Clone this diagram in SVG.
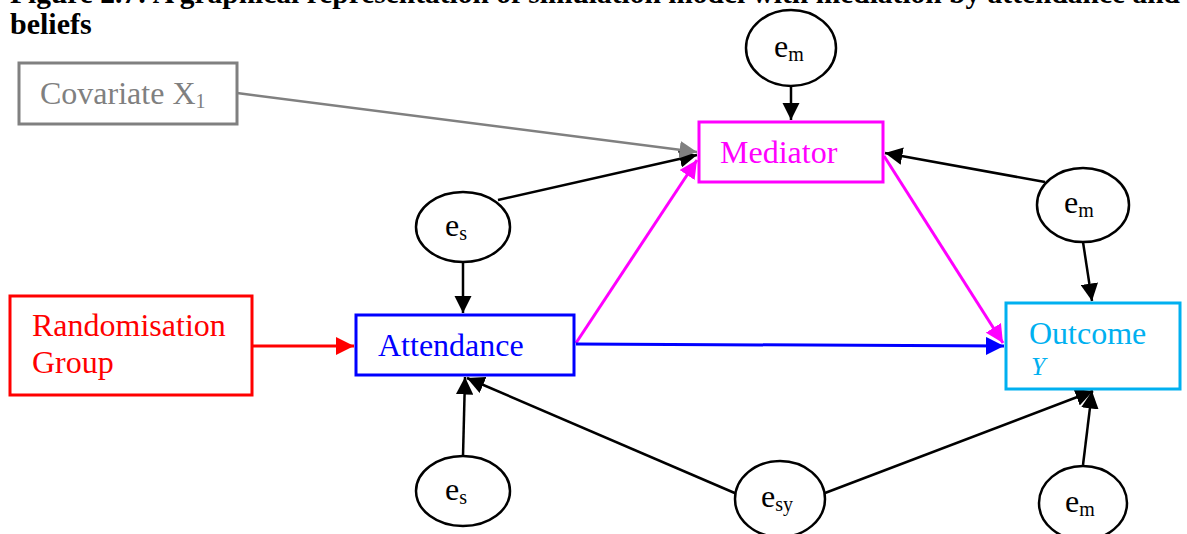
<svg xmlns="http://www.w3.org/2000/svg" width="1187" height="534" viewBox="0 0 1187 534">
  <style>
    text { font-family: "Liberation Serif", "Times New Roman", serif; }
    .title { font-size: 30px; font-weight: bold; fill: #000; }
    .lbl { font-size: 32px; }
    .err { fill: #fff; stroke: #000; stroke-width: 2.5; }
    .etext { font-size: 32px; fill: #000; }
    .sub { font-size: 20px; }
    .box { fill: #fff; stroke-width: 3; }
    .edge { fill: none; stroke-width: 2.5; }
    .hl { stroke-width: 3; }
  </style>
  <defs>
    <marker id="ahBlack" viewBox="0 0 10 10" refX="10" refY="5" markerWidth="7" markerHeight="7" orient="auto" markerUnits="strokeWidth">
      <path d="M0,0 L10,5 L0,10 Z" fill="#000"/>
    </marker>
    <marker id="ahGray" viewBox="0 0 10 10" refX="10" refY="5" markerWidth="7" markerHeight="7" orient="auto" markerUnits="strokeWidth">
      <path d="M0,0 L10,5 L0,10 Z" fill="#808080"/>
    </marker>
    <marker id="ahRed" viewBox="0 0 10 10" refX="10" refY="5" markerWidth="6" markerHeight="6" orient="auto" markerUnits="strokeWidth">
      <path d="M0,0 L10,5 L0,10 Z" fill="#ff0000"/>
    </marker>
    <marker id="ahBlue" viewBox="0 0 10 10" refX="10" refY="5" markerWidth="6" markerHeight="6" orient="auto" markerUnits="strokeWidth">
      <path d="M0,0 L10,5 L0,10 Z" fill="#0000ff"/>
    </marker>
    <marker id="ahMagenta" viewBox="0 0 10 10" refX="10" refY="5" markerWidth="6" markerHeight="6" orient="auto" markerUnits="strokeWidth">
      <path d="M0,0 L10,5 L0,10 Z" fill="#ff00ff"/>
    </marker>
  </defs>

  <rect x="0" y="0" width="1187" height="534" fill="#fff"/>

  <!-- caption (first line runs off the top edge) -->
  <text class="title" x="10" y="3" textLength="1170" lengthAdjust="spacingAndGlyphs">Figure 2.7: A graphical representation of simulation model with mediation by attendance and</text>
  <text class="title" x="10" y="34">beliefs</text>

  <!-- connectors -->
  <g id="connectors">
    <line class="edge" x1="498" y1="200" x2="697" y2="155" stroke="#000" marker-end="url(#ahBlack)"/>
    <line class="edge" x1="237" y1="93" x2="697" y2="152" stroke="#808080" marker-end="url(#ahGray)"/>
    <line class="edge" x1="791" y1="85" x2="791" y2="120" stroke="#000" marker-end="url(#ahBlack)"/>
    <line class="edge" x1="1045" y1="182" x2="885" y2="153" stroke="#000" marker-end="url(#ahBlack)"/>
    <line class="edge" x1="463" y1="262" x2="463" y2="313" stroke="#000" marker-end="url(#ahBlack)"/>
    <line class="edge hl" x1="252" y1="346" x2="354" y2="346" stroke="#ff0000" marker-end="url(#ahRed)"/>
    <line class="edge hl" x1="576" y1="343" x2="697" y2="160" stroke="#ff00ff" marker-end="url(#ahMagenta)"/>
    <line class="edge hl" x1="576" y1="344" x2="1004" y2="346" stroke="#0000ff" marker-end="url(#ahBlue)"/>
    <line class="edge hl" x1="884" y1="156" x2="1003" y2="343" stroke="#ff00ff" marker-end="url(#ahMagenta)"/>
    <line class="edge" x1="1083" y1="242" x2="1092" y2="301" stroke="#000" marker-end="url(#ahBlack)"/>
    <line class="edge" x1="463" y1="456" x2="465" y2="377" stroke="#000" marker-end="url(#ahBlack)"/>
    <line class="edge" x1="737" y1="494" x2="467" y2="378" stroke="#000" marker-end="url(#ahBlack)"/>
    <line class="edge" x1="825" y1="493" x2="1093" y2="391" stroke="#000" marker-end="url(#ahBlack)"/>
    <line class="edge" x1="1083" y1="465" x2="1092" y2="391" stroke="#000" marker-end="url(#ahBlack)"/>
  </g>

  <!-- nodes -->
  <g id="covariate">
    <rect class="box" x="19" y="63" width="218" height="61" stroke="#808080"/>
    <text class="lbl" x="40" y="104" fill="#808080">Covariate X<tspan class="sub" dy="4">1</tspan></text>
  </g>

  <g id="em-top">
    <ellipse class="err" cx="791" cy="48" rx="45" ry="38"/>
    <text class="etext" x="774" y="57">e<tspan class="sub" dy="4">m</tspan></text>
  </g>

  <g id="mediator">
    <rect class="box" x="699" y="122" width="184" height="60" stroke="#ff00ff"/>
    <text class="lbl" x="720" y="163" fill="#ff00ff">Mediator</text>
  </g>

  <g id="em-right">
    <ellipse class="err" cx="1083" cy="205" rx="46" ry="37"/>
    <text class="etext" x="1064" y="213">e<tspan class="sub" dy="4">m</tspan></text>
  </g>

  <g id="es-top">
    <ellipse class="err" cx="463" cy="227" rx="47" ry="35"/>
    <text class="etext" x="445" y="236">e<tspan class="sub" dy="4">s</tspan></text>
  </g>

  <g id="randomisation">
    <rect class="box" x="10" y="296" width="242" height="99" stroke="#ff0000"/>
    <text class="lbl" x="32" y="336" fill="#ff0000">Randomisation</text>
    <text class="lbl" x="32" y="373" fill="#ff0000">Group</text>
  </g>

  <g id="attendance">
    <rect class="box" x="356" y="315" width="218" height="60" stroke="#0000ff"/>
    <text class="lbl" x="378" y="356" fill="#0000ff">Attendance</text>
  </g>

  <g id="outcome">
    <rect class="box" x="1006" y="303" width="174" height="86" stroke="#00b0f0"/>
    <text class="lbl" x="1029" y="344" fill="#00b0f0">Outcome</text>
    <text x="1031" y="375" fill="#00b0f0" font-size="26" font-style="italic">Y</text>
  </g>

  <g id="es-bottom">
    <ellipse class="err" cx="463" cy="491" rx="47" ry="35"/>
    <text class="etext" x="445" y="500">e<tspan class="sub" dy="4">s</tspan></text>
  </g>

  <g id="esy">
    <ellipse class="err" cx="780" cy="499" rx="45" ry="38"/>
    <text class="etext" x="761" y="507">e<tspan class="sub" dy="4">sy</tspan></text>
  </g>

  <g id="em-bottom">
    <ellipse class="err" cx="1083" cy="503" rx="44" ry="37"/>
    <text class="etext" x="1065" y="512">e<tspan class="sub" dy="4">m</tspan></text>
  </g>
</svg>
